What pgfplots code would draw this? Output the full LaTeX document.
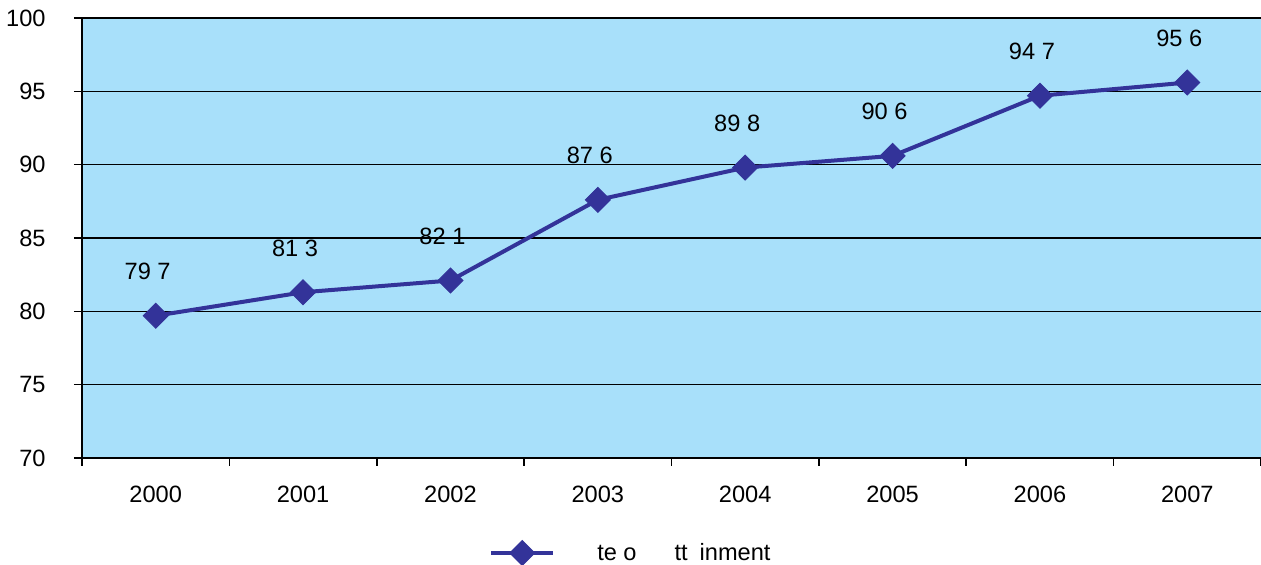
\documentclass[border=0pt]{standalone}
\usepackage{pgfplots}
\pgfplotsset{compat=1.18}
\usepackage{fontspec}
\setmainfont{Liberation Sans}
\definecolor{bgblue}{HTML}{A8E0FA}
\definecolor{serblue}{HTML}{333399}
\begin{document}
\begin{tikzpicture}
\useasboundingbox (0pt,0pt) rectangle (630.5pt,282.5pt);
\begin{axis}[
  at={(41pt,53.5pt)}, anchor=south west,
  scale only axis, width=589.5pt, height=220pt,
  xmin=-0.5, xmax=7.5, ymin=70, ymax=100,
  axis background/.style={fill=bgblue},
  axis x line*=bottom, axis y line*=left,
  axis line style={-, black, line width=1pt},
  ytick={70,75,...,100},
  ymajorgrids, grid style={black, line width=0.8pt},
  xtick={0,...,7},
  xticklabels={2000,2001,2002,2003,2004,2005,2006,2007},
  minor xtick={-0.5,0.5,...,7.5},
  major x tick style={draw=none},
  minor tick length=4pt, major tick length=4pt,
  tick align=outside, tick style={black, line width=0.8pt},
  xticklabel style={anchor=center, yshift=-14pt},
  yticklabel style={anchor=east, inner sep=0pt, xshift=-14pt},
  tick label style={font=\fontsize{11.8}{13}\selectfont},
  /pgf/number format/assume math mode=true,
  legend style={at={(axis description cs:0.34,0)}, anchor=west, yshift=-47.5pt, draw=none, fill=none, font=\fontsize{11.8}{13}\selectfont},
  legend image code/.code={\draw[#1, mark repeat=2, mark phase=2] plot coordinates {(0pt,0pt) (15.5pt,0pt) (31pt,0pt)};},
  clip=false,
]
\addplot[serblue, line width=2pt, mark=square*, mark size=4.4pt, mark options={rotate=45, fill=serblue, draw=serblue, line width=0.5pt},
  point meta=explicit symbolic,
  nodes near coords={\pgfplotspointmeta},
  every node near coord/.append style={anchor=center, yshift=22pt, xshift=-4pt, text=black, font=\fontsize{11.8}{13}\selectfont},
] coordinates {
 (0,79.7) [79 7]
 (1,81.3) [81 3]
 (2,82.1) [82 1]
 (3,87.6) [87 6]
 (4,89.8) [89 8]
 (5,90.6) [90 6]
 (6,94.7) [94 7]
 (7,95.6) [95 6]
};
\addlegendentry{\hspace{19pt}te o\hspace{19pt}tt\hspace{6pt}inment}
\end{axis}
\end{tikzpicture}
\end{document}
